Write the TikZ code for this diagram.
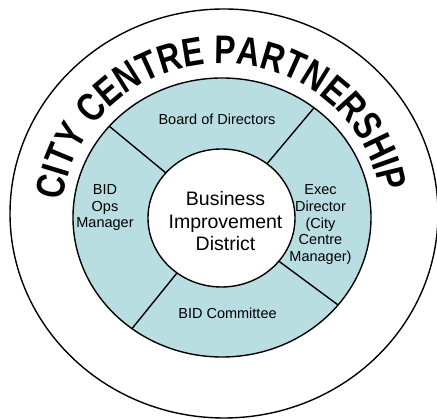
\documentclass[tikz,border=0pt]{standalone}
\usepackage{fontspec}
\setmainfont{Liberation Sans}
\newfontfamily\ccnarrow[FakeStretch=0.8]{Liberation Sans}
\usetikzlibrary{shapes.geometric,decorations.text}
\definecolor{ringteal}{RGB}{184,222,226}
\newcommand\cctitlefont{\ccnarrow\bfseries\fontsize{40}{40}\selectfont}
\tikzset{
  ringline/.style={draw=black, line width=1.4pt},
  ringshape/.style={ellipse, ringline, inner sep=0pt, outer sep=0pt},
  lbl/.style={align=center, inner sep=0pt, font=\fontsize{14.5}{16.7}\selectfont, text=black},
  corelbl/.style={align=center, inner sep=0pt, font=\fontsize{19.5}{22.5}\selectfont, text=black},
}
\begin{document}
\begin{tikzpicture}[x=1pt,y=1pt]
\useasboundingbox (0,0) rectangle (437,-419);
\node[ringshape, fill=white, minimum width=428pt, minimum height=409pt] (outer) at (224,-213.5) {};
\node[ringshape, fill=ringteal, minimum width=298pt, minimum height=279pt] (ring) at (222,-217.5) {};
\node[ringshape, fill=white, minimum width=147pt, minimum height=138pt] (core) at (221.5,-218) {};
\foreach \a in {141,50.5,-37,-129} \draw[ringline] (core.\a) -- (ring.\a);
\path[decorate, decoration={text along path, text align=center,
  text={|\cctitlefont|CITY CENTRE PARTNERSHIP}}]
  (222,-217.5) ++(183:160 and 154) arc[start angle=183, end angle=0, x radius=160, y radius=154];
\node[lbl] (board) at (217,-119.7) {Board of Directors};
\node[lbl] (ops) at (105,-207.8) {BID\\Ops\\Manager};
\node[lbl] (exec) at (320.5,-224.8) {Exec\\Director\\(City\\Centre\\Manager)};
\node[lbl] (committee) at (227.5,-313.7) {BID Committee};
\node[corelbl] (bid) at (225.5,-221.5) {Business\\Improvement\\District};
\end{tikzpicture}
\end{document}
